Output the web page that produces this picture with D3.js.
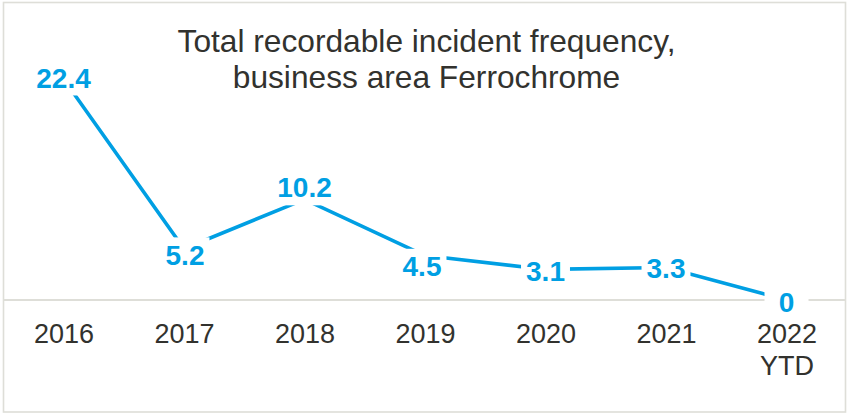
<!DOCTYPE html>
<html>
<head>
<meta charset="utf-8">
<script src="https://cdn.jsdelivr.net/npm/d3@7"></script>
<style>
  html, body { margin: 0; padding: 0; background: #fff; }
  svg { display: block; }
</style>
</head>
<body>
<svg id="chart" width="848" height="414"></svg>
<script>
// ---- data ----
const categories = ["2016", "2017", "2018", "2019", "2020", "2021", "2022 YTD"];
const values = [22.4, 5.2, 10.2, 4.5, 3.1, 3.3, 0];
const valueLabels = ["22.4", "5.2", "10.2", "4.5", "3.1", "3.3", "0"];
const titleLines = ["Total recordable incident frequency,", "business area Ferrochrome"];

// ---- layout / style ----
const W = 848, H = 414;
const blue = "#009fe3";
const textColor = "#32322e";
const gridColor = "#deded8";
const labelFont = 28;
// manual label nudges (px) as in the original chart
const labelDx = [0, 1, 0, -3, 0, 0, 0];
const labelDy = [-1.5, 6, -12, 10.5, 2, 1, 2];

const svg = d3.select("#chart");

// outer border
svg.append("rect")
  .attr("x", 3.5).attr("y", 2.5)
  .attr("width", 842).attr("height", 409.5)
  .attr("fill", "#fff")
  .attr("stroke", gridColor).attr("stroke-width", 1.6);

const x = d3.scalePoint().domain(categories).range([63.5, 786.5]);
const y = d3.scaleLinear().domain([0, 22.4]).range([300, 79]);

// title
const title = svg.append("text")
  .attr("text-anchor", "middle")
  .attr("font-family", "'Liberation Sans', Arial, sans-serif")
  .attr("font-size", 31.7)
  .attr("fill", textColor);
titleLines.forEach((t, i) => {
  title.append("tspan").attr("x", 426.5).attr("y", 52 + i * 36).text(t);
});

// baseline (category axis line)
svg.append("line")
  .attr("x1", 4).attr("x2", 845)
  .attr("y1", y(0)).attr("y2", y(0))
  .attr("stroke", gridColor).attr("stroke-width", 2);

// x axis labels
const xAxis = d3.axisBottom(x).tickSize(0).tickPadding(0).tickFormat("");
const gx = svg.append("g").attr("transform", `translate(0,${y(0)})`).call(xAxis);
gx.select(".domain").remove();
gx.selectAll(".tick").each(function(d) {
  const parts = d.split(" ");
  const t = d3.select(this).append("text")
    .attr("text-anchor", "middle")
    .attr("font-family", "'Liberation Sans', Arial, sans-serif")
    .attr("font-size", 27)
    .attr("fill", textColor);
  parts.forEach((p, i) => {
    t.append("tspan").attr("x", 0).attr("y", 43 + i * 32).text(p);
  });
});

// line
const pts = categories.map((c, i) => ({ c, v: values[i], lab: valueLabels[i], i }));
svg.append("path")
  .datum(pts)
  .attr("fill", "none")
  .attr("stroke", blue)
  .attr("stroke-width", 3.6)
  .attr("d", d3.line().x(d => x(d.c)).y(d => y(d.v)));

// data labels with white boxes
const lg = svg.append("g");
pts.forEach(d => {
  const cx = x(d.c) + labelDx[d.i];
  const cy = y(d.v) + labelDy[d.i];
  const baseline = cy + 0.716 * labelFont / 2;
  const g = lg.append("g");
  const rect = g.append("rect").attr("fill", "#fff");
  const t = g.append("text")
    .attr("x", cx).attr("y", baseline)
    .attr("text-anchor", "middle")
    .attr("font-family", "'Liberation Sans', Arial, sans-serif")
    .attr("font-weight", "bold")
    .attr("font-size", labelFont)
    .attr("fill", blue)
    .text(d.lab);
  const tw = t.node().getComputedTextLength();
  const bw = Math.max(tw + 10, 44);
  const top = baseline - 0.905 * labelFont - 2;
  const bottom = baseline + 0.212 * labelFont + 2;
  rect.attr("x", cx - bw / 2).attr("y", top)
    .attr("width", bw).attr("height", bottom - top);
});
</script>
</body>
</html>
